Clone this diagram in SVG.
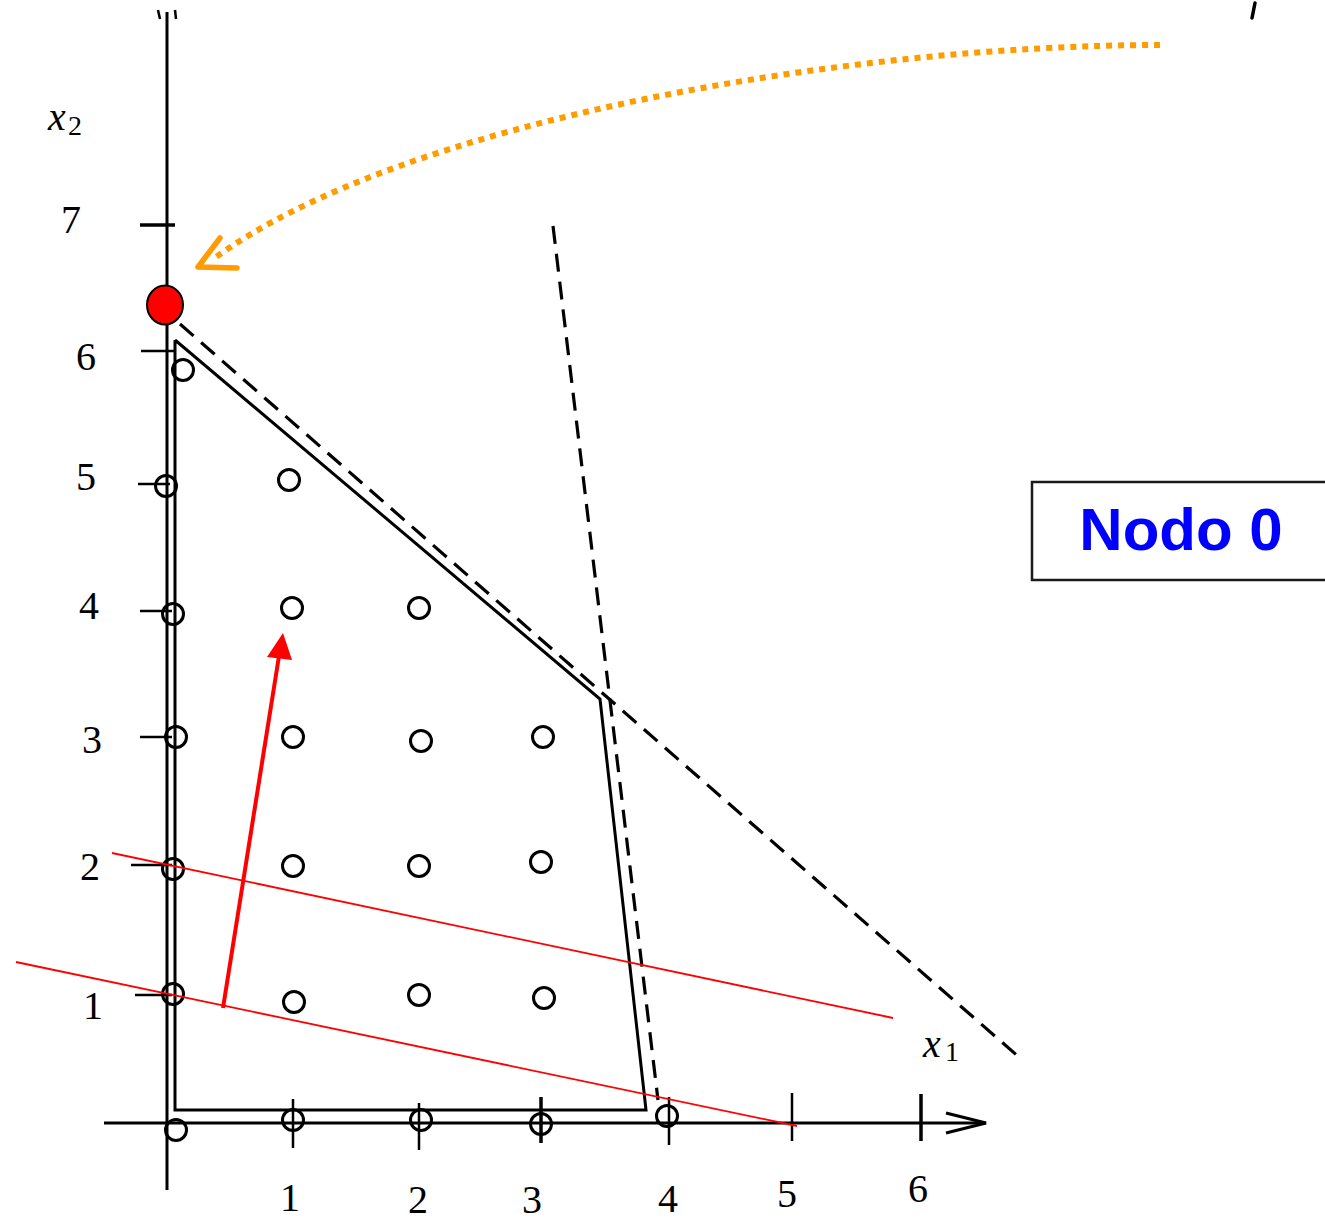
<svg xmlns="http://www.w3.org/2000/svg" width="1325" height="1220" viewBox="0 0 1325 1220">
<style>
.ax{stroke:#000;stroke-width:3;fill:none}
.tk{stroke:#000;stroke-width:2.5;fill:none}
.sol{stroke:#000;stroke-width:3;fill:none;stroke-linejoin:miter}
.dsh{stroke:#000;stroke-width:3.2;fill:none;stroke-dasharray:18 10}
.pt{stroke:#000;stroke-width:3;fill:none}
.num{font-family:"Liberation Serif",serif;font-size:40px;fill:#000;text-anchor:middle}
.var{font-family:"Liberation Serif",serif;font-style:italic;font-size:40px;fill:#000}
.sub{font-family:"Liberation Serif",serif;font-size:28px;fill:#000}
.rl{stroke:#ff0000;stroke-width:1.8;fill:none}
</style>
<rect width="1325" height="1220" fill="#ffffff"/>

<g id="axes">
<line class="ax" x1="167" y1="12" x2="167" y2="1190"/>
<line class="ax" x1="104" y1="1123" x2="986" y2="1123"/>
<polyline class="ax" points="946,1113 986,1123 946,1133"/>
<line class="tk" x1="158" y1="10" x2="160" y2="19"/>
<line class="tk" x1="175" y1="10" x2="176" y2="19"/>
<line x1="140" y1="225" x2="175" y2="225" stroke="#000" stroke-width="3.5"/>
<line class="tk" x1="141" y1="351" x2="175" y2="351"/>
<line class="tk" x1="138" y1="484" x2="170" y2="484"/>
<line class="tk" x1="140" y1="611" x2="172" y2="611"/>
<line class="tk" x1="140" y1="737" x2="172" y2="737"/>
<line class="tk" x1="131" y1="865" x2="172" y2="865"/>
<line class="tk" x1="135" y1="995" x2="172" y2="995"/>
<line class="tk" x1="293" y1="1099" x2="293" y2="1148"/>
<line class="tk" x1="419" y1="1103" x2="419" y2="1150"/>
<line x1="541" y1="1097" x2="541" y2="1143" stroke="#000" stroke-width="3.5"/>
<line class="tk" x1="669" y1="1097" x2="669" y2="1145"/>
<line class="tk" x1="792" y1="1093" x2="792" y2="1141"/>
<line x1="921" y1="1094" x2="921" y2="1141" stroke="#000" stroke-width="3.5"/>
</g>

<g id="axis-labels">
<text class="num" x="71" y="233">7</text>
<text class="num" x="86" y="370">6</text>
<text class="num" x="86" y="490">5</text>
<text class="num" x="89" y="619">4</text>
<text class="num" x="92" y="753">3</text>
<text class="num" x="90" y="880">2</text>
<text class="num" x="93" y="1019">1</text>
<text class="num" x="290" y="1211">1</text>
<text class="num" x="418" y="1213">2</text>
<text class="num" x="532" y="1213">3</text>
<text class="num" x="668" y="1212">4</text>
<text class="num" x="787" y="1207">5</text>
<text class="num" x="918" y="1202">6</text>
<text class="var" x="48" y="130">x</text><text class="sub" x="68" y="135">2</text>
<text class="var" x="923" y="1057">x</text><text class="sub" x="945" y="1061">1</text>
</g>

<g id="feasible-region">
<polyline class="sol" points="175,340 175,1110 646,1110 600,699 175,340"/>
</g>

<g id="cuts">
<line class="dsh" x1="180" y1="324" x2="1020" y2="1058"/>
<line class="dsh" x1="553" y1="226" x2="658" y2="1100"/>
</g>

<g id="lattice">
<circle class="pt" cx="183" cy="370" r="10.5"/>
<circle class="pt" cx="166" cy="486" r="10.5"/>
<circle class="pt" cx="289" cy="480" r="10.5"/>
<circle class="pt" cx="173" cy="614" r="10.5"/>
<circle class="pt" cx="292" cy="608" r="10.5"/>
<circle class="pt" cx="419" cy="608" r="10.5"/>
<circle class="pt" cx="176" cy="737" r="10.5"/>
<circle class="pt" cx="293" cy="737" r="10.5"/>
<circle class="pt" cx="421" cy="741" r="10.5"/>
<circle class="pt" cx="543" cy="737" r="10.5"/>
<circle class="pt" cx="173" cy="869" r="10.5"/>
<circle class="pt" cx="293" cy="866" r="10.5"/>
<circle class="pt" cx="419" cy="866" r="10.5"/>
<circle class="pt" cx="541" cy="862" r="10.5"/>
<circle class="pt" cx="173" cy="994" r="10.5"/>
<circle class="pt" cx="294" cy="1002" r="10.5"/>
<circle class="pt" cx="419" cy="995" r="10.5"/>
<circle class="pt" cx="544" cy="998" r="10.5"/>
<circle class="pt" cx="176" cy="1130" r="10.5"/>
<circle class="pt" cx="293" cy="1120" r="10.5"/>
<circle class="pt" cx="421" cy="1120" r="10.5"/>
<circle class="pt" cx="541" cy="1124" r="10.5"/>
<circle class="pt" cx="667" cy="1116" r="10.5"/>
</g>

<g id="objective">
<line class="rl" x1="112" y1="853" x2="893" y2="1018"/>
<line class="rl" x1="16" y1="962" x2="797" y2="1126"/>
<line x1="223" y1="1008" x2="279" y2="656" stroke="#ff0000" stroke-width="4"/>
<polygon points="283,633 267,657 292,660" fill="#ff0000"/>
</g>

<g id="optimum">
<ellipse cx="165" cy="305" rx="18" ry="19.5" fill="#ff0000" stroke="#000" stroke-width="2"/>
</g>

<g id="connectors">
<path d="M1160,45 C850,45 400,120 212,260" fill="none" stroke="#ff9c00" stroke-width="6" stroke-dasharray="6 6"/>
<polyline points="220,238 198,267 237,268" fill="none" stroke="#ff9c00" stroke-width="5.5" stroke-linecap="round" stroke-linejoin="round"/>
</g>

<g id="fragment">
<path d="M1255,3 L1252,18" fill="none" stroke="#000" stroke-width="3.5" stroke-linecap="round"/>
</g>

<g id="nodo0">
<rect x="1032" y="482" width="300" height="98" fill="#ffffff" stroke="#1a1a1a" stroke-width="2.5"/>
<text x="1181" y="550" font-family="'Liberation Sans',Arial,sans-serif" font-weight="bold" font-size="60" fill="#0000ff" text-anchor="middle">Nodo 0</text>
</g>
</svg>
